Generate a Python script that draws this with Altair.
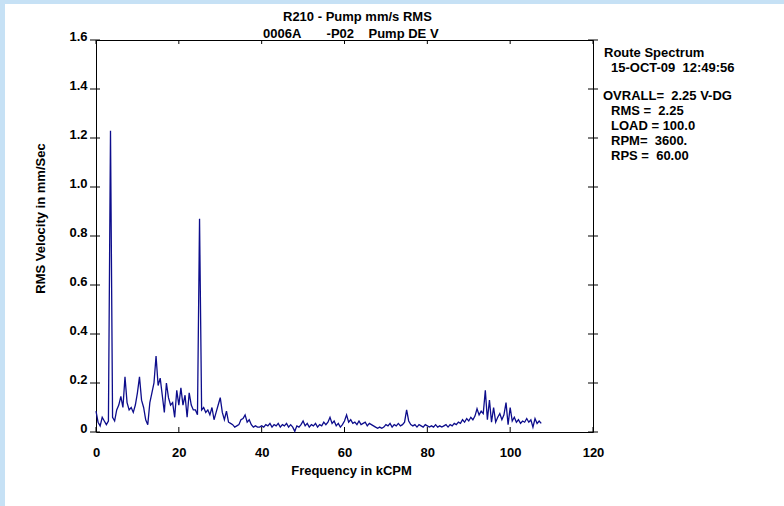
import altair as alt
import pandas as pd

# ---- data ----
FREQ_STEP = 0.5  # kCPM between successive spectrum lines
rms_velocity = [
    0.085, 0.04, 0.025, 0.06, 0.045, 0.03, 0.045, 1.23, 0.06, 0.045,
    0.09, 0.11, 0.145, 0.1, 0.225, 0.12, 0.09, 0.1, 0.08, 0.11,
    0.16, 0.225, 0.13, 0.1, 0.05, 0.03, 0.12, 0.16, 0.2, 0.31,
    0.19, 0.22, 0.15, 0.08, 0.2, 0.14, 0.11, 0.12, 0.06, 0.17,
    0.11, 0.18, 0.11, 0.15, 0.06, 0.16, 0.11, 0.09, 0.09, 0.07,
    0.87, 0.09, 0.1, 0.08, 0.09, 0.07, 0.1, 0.05, 0.08, 0.11,
    0.14, 0.08, 0.05, 0.085, 0.04, 0.035, 0.03, 0.02, 0.025, 0.03,
    0.05, 0.055, 0.07, 0.04, 0.05, 0.03, 0.02, 0.025, 0.02, 0.02,
    0.025, 0.02, 0.03, 0.025, 0.035, 0.02, 0.03, 0.025, 0.035, 0.02,
    0.03, 0.025, 0.035, 0.02, 0.03, 0.02, 0.003, 0.025, 0.02, 0.03,
    0.045, 0.025, 0.035, 0.02, 0.03, 0.025, 0.035, 0.02, 0.03, 0.025,
    0.04, 0.03, 0.04, 0.06, 0.035, 0.045, 0.025, 0.035, 0.02, 0.03,
    0.045, 0.07, 0.04, 0.05, 0.035, 0.04, 0.03, 0.045, 0.03, 0.035,
    0.04, 0.025, 0.035, 0.03, 0.025, 0.02, 0.015, 0.02, 0.015, 0.02,
    0.03, 0.025, 0.035, 0.02, 0.03, 0.025, 0.035, 0.025, 0.03, 0.04,
    0.09, 0.045, 0.03, 0.025, 0.03, 0.02, 0.03, 0.025, 0.02, 0.03,
    0.025, 0.02, 0.025, 0.02, 0.03, 0.02, 0.025, 0.02, 0.025, 0.03,
    0.02, 0.03, 0.025, 0.035, 0.03, 0.04, 0.035, 0.05, 0.04, 0.055,
    0.045, 0.06, 0.05, 0.065, 0.095, 0.07, 0.085, 0.075, 0.17, 0.05,
    0.13, 0.04, 0.1, 0.04, 0.06, 0.075, 0.05, 0.07, 0.12, 0.03,
    0.1, 0.045, 0.06, 0.04, 0.05, 0.035, 0.045, 0.04, 0.055, 0.04,
    0.05, 0.02, 0.055, 0.035, 0.045, 0.035,
]
x_ticks = [0, 20, 40, 60, 80, 100, 120]
y_ticks = [0, 0.2, 0.4, 0.6, 0.8, 1.0, 1.2, 1.4, 1.6]

title_lines = ["R210 - Pump mm/s RMS",
               "0006A\u00a0\u00a0\u00a0\u00a0\u00a0\u00a0\u00a0-P02\u00a0\u00a0\u00a0\u00a0Pump DE V"]
info_head = ["Route Spectrum", "15-OCT-09\u00a0\u00a012:49:56"]
info_body = ["OVRALL=\u00a0\u00a02.25 V-DG", "RMS =\u00a0\u00a02.25", "LOAD = 100.0",
             "RPM=\u00a0\u00a03600.", "RPS =\u00a0\u00a060.00"]

spec = pd.DataFrame({
    "freq": [i * FREQ_STEP for i in range(len(rms_velocity))],
    "rms": rms_velocity,
})
xt = pd.DataFrame({"v": x_ticks})
yt = pd.DataFrame({"v": y_ticks})
one = pd.DataFrame({"a": [0]})

W, H = 497, 392
FONT = "Liberation Sans"
NAVY = "#0d0d8c"
FRAME = "#c6e1f5"

xscale = alt.Scale(domain=[0, 120], nice=False, zero=False)
yscale = alt.Scale(domain=[0, 1.6], nice=False)

# light-blue window frame on the left and top edges
frame_left = alt.Chart(one).mark_rect(color=FRAME).encode(
    x=alt.value(-96), x2=alt.value(-91), y=alt.value(-40), y2=alt.value(480))
frame_top = alt.Chart(one).mark_rect(color=FRAME).encode(
    x=alt.value(-96), x2=alt.value(700), y=alt.value(-40), y2=alt.value(-36))

line = alt.Chart(spec).mark_line(color=NAVY, strokeWidth=1.3).encode(
    x=alt.X("freq:Q", scale=xscale,
            axis=alt.Axis(values=x_ticks, title="Frequency in kCPM", grid=False,
                          domain=False, ticks=False, labelPadding=14,
                          labelFont=FONT, labelFontSize=13, labelFontWeight="bold",
                          labelColor="black", labelFlush=False,
                          titleFont=FONT, titleFontSize=13, titleFontWeight="bold",
                          titleColor="black", titleX=255, titleY=38,
                          titleBaseline="middle", titleAlign="center")),
    y=alt.Y("rms:Q", scale=yscale,
            axis=alt.Axis(values=y_ticks, title="RMS Velocity in mm/Sec", grid=False,
                          domain=False, ticks=False, labelPadding=9,
                          labelBaseline="alphabetic",
                          labelExpr="datum.value == 0 ? '0' : format(datum.value, '.1f')",
                          labelFont=FONT, labelFontSize=13, labelFontWeight="bold",
                          labelColor="black", labelFlush=False,
                          titleFont=FONT, titleFontSize=13, titleFontWeight="bold",
                          titleColor="black", titleX=-56, titleY=178, titleAngle=270,
                          titleBaseline="middle", titleAlign="center")),
)

tick_style = dict(color="black", strokeWidth=1)
xb = alt.Chart(xt).mark_rule(**tick_style).encode(
    x=alt.X("v:Q", scale=xscale), y=alt.value(H), y2=alt.value(H - 5))
xtop = alt.Chart(xt).mark_rule(**tick_style).encode(
    x=alt.X("v:Q", scale=xscale), y=alt.value(0), y2=alt.value(4))
yl = alt.Chart(yt).mark_rule(**tick_style).encode(
    y=alt.Y("v:Q", scale=yscale), x=alt.value(-6), x2=alt.value(4))
yr = alt.Chart(yt).mark_rule(**tick_style).encode(
    y=alt.Y("v:Q", scale=yscale), x=alt.value(W - 5), x2=alt.value(W + 5))

def label(txt, x, y):
    return alt.Chart(one).mark_text(text=txt, align="left", baseline="alphabetic",
                                    font=FONT, fontSize=13, fontWeight="bold",
                                    color="black").encode(x=alt.value(x), y=alt.value(y))

texts = [
    label(title_lines[0], 187, -19),
    label(title_lines[1], 167, -2.5),
    label(info_head[0], 508, 16.5),
    label(info_head[1], 515, 31.5),
]
body_y = [60, 75, 90, 105, 120]
body_x = [507, 515, 515, 515, 515]
for t, bx, by in zip(info_body, body_x, body_y):
    texts.append(label(t, bx, by))

chart = alt.layer(frame_left, frame_top, line, xb, xtop, yl, yr, *texts).properties(
    width=W, height=H,
    autosize=alt.AutoSizeParams(type="none"),
    padding={"left": 96, "top": 40, "right": 784 - 96 - W, "bottom": 506 - 40 - H},
).configure(background="white").configure_view(stroke="black", strokeWidth=1)

chart.save("out.html", embed_options={"renderer": "svg", "actions": False})
